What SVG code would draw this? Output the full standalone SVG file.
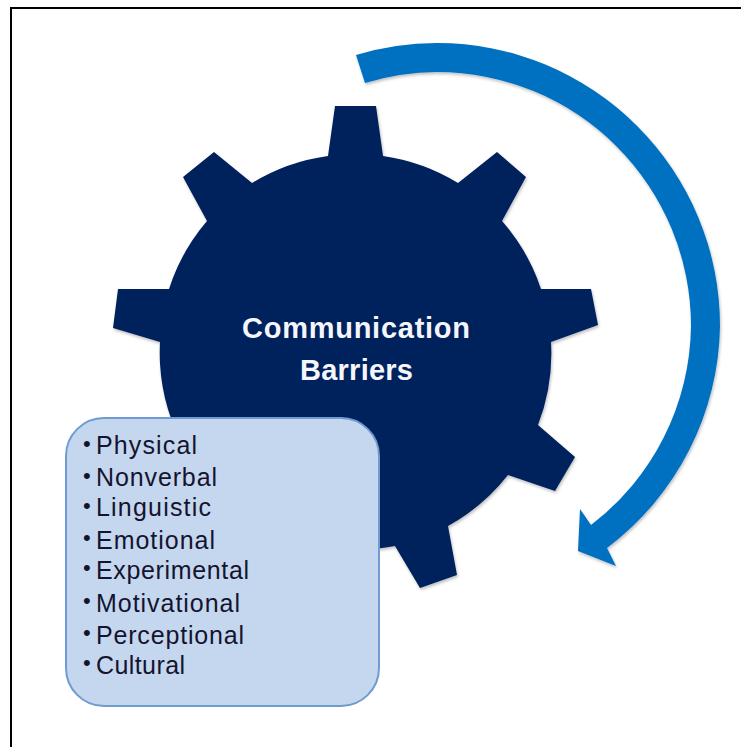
<svg xmlns="http://www.w3.org/2000/svg" width="741" height="747" viewBox="0 0 741 747">
<style>
.t{font-family:"Liberation Sans",Arial,sans-serif}
.l{font-size:25px;fill:#14142e}
.b{font-size:22px;fill:#14142e}
.h{font-size:29px;font-weight:bold;fill:#f4f6fb}
</style>
<defs><filter id="s" x="-5%" y="-5%" width="110%" height="110%"><feDropShadow dx="1" dy="2" stdDeviation="1.5" flood-color="#000" flood-opacity=".25"/></filter></defs>
<rect width="741" height="747" fill="#fff"/>
<path d="M11 747V8H741" fill="none" stroke="#000" stroke-width="2"/>
<g id="connectors">
<path filter="url(#s)" fill="#0070c0" d="M356 55A283 283 0 0 1 437 43A283 283 0 0 1 720 326A283 283 0 0 1 607 548L616 566L578 551L580 509L591 525A254 254 0 0 0 691 326A254 254 0 0 0 437 72A254 254 0 0 0 365 83Z"/>
</g>
<g id="gear">
<path filter="url(#s)" fill="#00205c" d="M328 156L335 106H376L383 156A197 197 0 0 1 458 183L497 152L526 177L502 221A197 197 0 0 1 541 289H591L598 325L551 342A197 197 0 0 1 538 425L575 457L555 491L508 475A197 197 0 0 1 448 526L457 575L420 588L395 546A197 197 0 0 1 160 342L113 328L118 289H169A197 197 0 0 1 207 221L183 177L214 152L252 183A197 197 0 0 1 328 156Z"/>
<text class="t h" x="242" y="338" textLength="228">Communication</text>
<text class="t h" x="300" y="380" textLength="113">Barriers</text>
</g>
<g id="list">
<rect x="66" y="418" width="313" height="288" rx="38" fill="#c5d7ee" stroke="#6f9bd1" stroke-width="2"/>
<g class="t">
<text class="b" x="83" y="451">•</text><text class="l" x="96" y="454" textLength="101">Physical</text>
<text class="b" x="83" y="483">•</text><text class="l" x="96" y="486" textLength="121">Nonverbal</text>
<text class="b" x="83" y="513">•</text><text class="l" x="96" y="516" textLength="115">Linguistic</text>
<text class="b" x="83" y="545">•</text><text class="l" x="96" y="549" textLength="119">Emotional</text>
<text class="b" x="83" y="575">•</text><text class="l" x="96" y="579" textLength="153">Experimental</text>
<text class="b" x="83" y="608">•</text><text class="l" x="96" y="612" textLength="144">Motivational</text>
<text class="b" x="83" y="640">•</text><text class="l" x="96" y="644" textLength="148">Perceptional</text>
<text class="b" x="83" y="670">•</text><text class="l" x="96" y="674" textLength="89">Cultural</text>
</g>
</g>
</svg>
